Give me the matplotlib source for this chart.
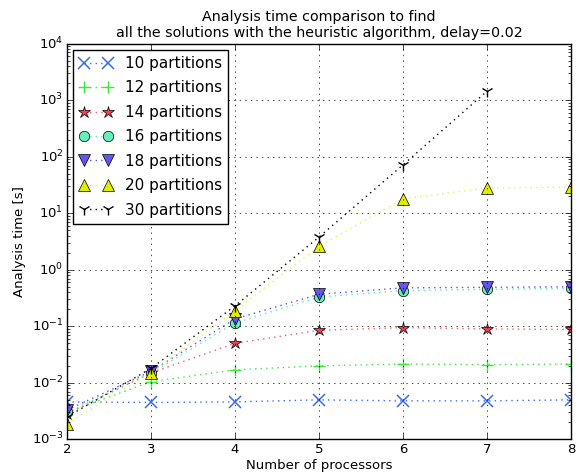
import matplotlib
matplotlib.use('Agg')
import matplotlib.pyplot as plt
import numpy as np

plt.style.use('classic')

processors = [2, 3, 4, 5, 6, 7, 8]

t10 = [0.0046, 0.0045, 0.0046, 0.0050, 0.0048, 0.0048, 0.0050]
t12 = [0.0030, 0.0105, 0.0170, 0.0200, 0.0215, 0.0210, 0.0215]
t14 = [0.0028, 0.0150, 0.0500, 0.0850, 0.0950, 0.0900, 0.0880]
t16 = [0.0030, 0.0150, 0.1150, 0.3300, 0.4300, 0.4500, 0.4700]
t18 = [0.0033, 0.0160, 0.1350, 0.3700, 0.4800, 0.4900, 0.5000]
t20 = [0.0019, 0.0150, 0.1900, 2.6000, 18.000, 28.000, 29.000]
t30 = [0.0025, 0.0180, 0.2300, 3.8000, 72.000, 1450.0]

series = [
    ('10 partitions', t10, dict(marker='x', color='#3b6cf0', mec='#3b6cf0', ms=8, mew=1.1)),
    ('12 partitions', t12, dict(marker='+', color='#3fe63f', mec='#3fe63f', ms=8, mew=1.0)),
    ('14 partitions', t14, dict(marker='*', color='#f06070', mfc='#ee4455', mec='k', ms=9)),
    ('16 partitions', t16, dict(marker='o', color='#5fe8b8', mfc='#66eebb', mec='k', ms=7.5)),
    ('18 partitions', t18, dict(marker='v', color='#5a50e8', mfc='#6655ee', mec='k', ms=8.5)),
    ('20 partitions', t20, dict(marker='^', color='#eeee55', mfc='#e0ee00', mec='k', ms=8.5)),
    ('30 partitions', t30, dict(marker='1', color='k', mec='k', ms=9, mew=1.0)),
]

fig = plt.figure(figsize=(5.87, 4.75), dpi=100, facecolor='white')
ax = fig.add_axes([0.114, 0.075, 0.859, 0.833])

for label, vals, style in series:
    ax.plot(processors[:len(vals)], vals, linestyle=':', linewidth=1.0, label=label, **style)

ax.set_yscale('log')
ax.set_xlim(2, 8)
ax.set_ylim(1e-3, 1e4)
ax.grid(True, which='major', linestyle=':', color='k')
ax.tick_params(labelsize=9.5, pad=2.5)

ax.set_xlabel('Number of processors', fontsize=9.5, labelpad=2)
ax.set_ylabel('Analysis time [s]', fontsize=9.5, labelpad=4)
ax.set_title('Analysis time comparison to find\n'
             'all the solutions with the heuristic algorithm, delay=0.02',
             fontsize=10.3)

leg = ax.legend(loc='upper left', numpoints=2, fontsize=11, handlelength=2.2,
                borderaxespad=0.4, labelspacing=0.62)
leg.get_frame().set_linewidth(1.0)

fig.savefig('out.png', dpi=100, facecolor='white')
